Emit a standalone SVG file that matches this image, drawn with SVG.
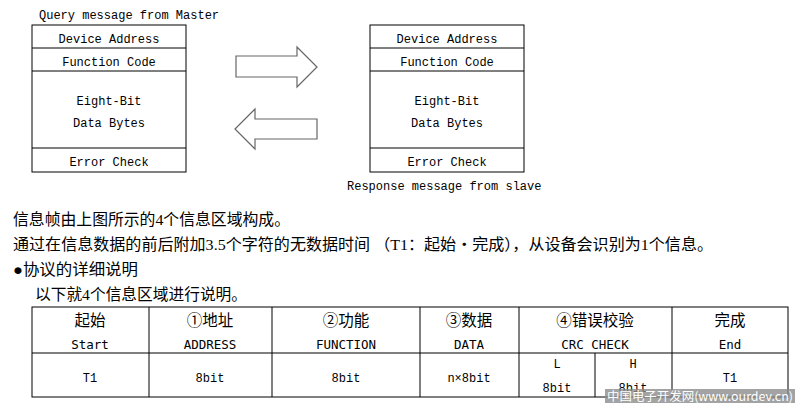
<svg xmlns="http://www.w3.org/2000/svg" width="798" height="410" viewBox="0 0 798 410">
<style>
.box{fill:#fff;stroke:#000;stroke-width:1}
.ln{stroke:#000;stroke-width:1;fill:none}
.mono{font-family:"Liberation Mono","DejaVu Sans Mono",monospace;font-size:12px;fill:#000;text-anchor:middle}
.cap{font-family:"Liberation Mono","DejaVu Sans Mono",monospace;font-size:12px;fill:#000}
.body{font-family:"Liberation Serif","Noto Sans CJK SC",serif;font-size:15.5px;fill:#000}
.hcn{font-family:"Noto Sans CJK SC","Noto Sans CJK JP",sans-serif;font-size:15.5px;fill:#000;text-anchor:middle}
.hen{font-family:"DejaVu Sans Mono","Liberation Mono",monospace;font-size:12.5px;fill:#000;text-anchor:middle}
.arrow{fill:#fff;stroke:#666;stroke-width:1.2}
</style>
<rect width="798" height="410" fill="#fff"/>

<text class="cap" x="39" y="19">Query message from Master</text>
<g id="master">
  <rect class="box" x="32" y="25" width="154" height="147"/>
  <line class="ln" x1="32" y1="48" x2="186" y2="48"/>
  <line class="ln" x1="32" y1="71" x2="186" y2="71"/>
  <line class="ln" x1="32" y1="148" x2="186" y2="148"/>
  <text class="mono" x="109" y="43">Device Address</text>
  <text class="mono" x="109" y="66">Function Code</text>
  <text class="mono" x="109" y="105">Eight-Bit</text>
  <text class="mono" x="109" y="127">Data Bytes</text>
  <text class="mono" x="109" y="166">Error Check</text>
</g>

<g id="slave">
  <rect class="box" x="370" y="25" width="154" height="147"/>
  <line class="ln" x1="370" y1="48" x2="524" y2="48"/>
  <line class="ln" x1="370" y1="71" x2="524" y2="71"/>
  <line class="ln" x1="370" y1="148" x2="524" y2="148"/>
  <text class="mono" x="447" y="43">Device Address</text>
  <text class="mono" x="447" y="66">Function Code</text>
  <text class="mono" x="447" y="105">Eight-Bit</text>
  <text class="mono" x="447" y="127">Data Bytes</text>
  <text class="mono" x="447" y="166">Error Check</text>
</g>
<text class="cap" x="347" y="190">Response message from slave</text>

<g id="connectors">
  <polygon class="arrow" points="236,56 297,56 297,47 317,67 297,87 297,77 236,77"/>
  <polygon class="arrow" points="235,129 255,109 255,119 317,119 317,139 255,139 255,149"/>
</g>

<g id="description">
  <text class="body" x="13" y="225" textLength="277" lengthAdjust="spacingAndGlyphs">信息帧由上图所示的4个信息区域构成。</text>
  <text class="body" x="13" y="250" textLength="700" lengthAdjust="spacingAndGlyphs">通过在信息数据的前后附加3.5个字符的无数据时间 （T1：起始・完成），从设备会识别为1个信息。</text>
  <text class="body" x="13" y="275" textLength="125" lengthAdjust="spacingAndGlyphs">●协议的详细说明</text>
  <text class="body" x="35" y="300" textLength="212" lengthAdjust="spacingAndGlyphs">以下就4个信息区域进行说明。</text>
</g>

<g id="table">
  <rect class="box" x="32" y="307" width="756" height="90"/>
  <line class="ln" x1="32" y1="353" x2="788" y2="353"/>
  <line class="ln" x1="149" y1="307" x2="149" y2="397"/>
  <line class="ln" x1="272" y1="307" x2="272" y2="397"/>
  <line class="ln" x1="420" y1="307" x2="420" y2="397"/>
  <line class="ln" x1="519" y1="307" x2="519" y2="397"/>
  <line class="ln" x1="595" y1="353" x2="595" y2="397"/>
  <line class="ln" x1="672" y1="307" x2="672" y2="397"/>
  <text class="hcn" x="90" y="326">起始</text>
  <text class="hen" x="90" y="349">Start</text>
  <text class="hcn" x="210" y="326">①地址</text>
  <text class="hen" x="210" y="349">ADDRESS</text>
  <text class="hcn" x="346" y="326">②功能</text>
  <text class="hen" x="346" y="349">FUNCTION</text>
  <text class="hcn" x="469" y="326">③数据</text>
  <text class="hen" x="469" y="349">DATA</text>
  <text class="hcn" x="595" y="326">④错误校验</text>
  <text class="hen" x="595" y="349">CRC CHECK</text>
  <text class="hcn" x="730" y="326">完成</text>
  <text class="hen" x="730" y="349">End</text>
  <text class="mono" x="90" y="382">T1</text>
  <text class="mono" x="210" y="382">8bit</text>
  <text class="mono" x="346" y="382">8bit</text>
  <text class="mono" x="469" y="382">n×8bit</text>
  <text class="mono" x="557" y="368">L</text>
  <text class="mono" x="557" y="392">8bit</text>
  <text class="mono" x="633" y="368">H</text>
  <text class="mono" x="633" y="392">8bit</text>
  <text class="mono" x="730" y="382">T1</text>
</g>

<g id="watermark">
  <rect x="605" y="389" width="190" height="14" fill="#8c8c8c" fill-opacity="0.8"/>
  <text x="607" y="401" font-family="Noto Sans CJK SC, sans-serif" font-size="12" fill="#fff" textLength="186" lengthAdjust="spacingAndGlyphs">中国电子开发网(www.ourdev.cn)</text>
</g>
</svg>
